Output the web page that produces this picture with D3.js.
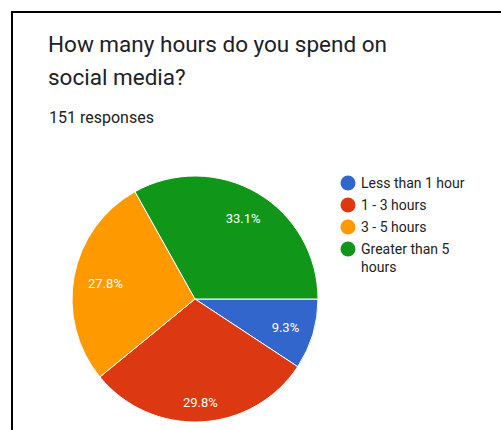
<!DOCTYPE html>
<html>
<head>
<meta charset="utf-8">
<script src="https://cdn.jsdelivr.net/npm/d3@7"></script>
<style>
  html, body { margin: 0; padding: 0; background: #fff; }
  svg { display: block; }
</style>
</head>
<body>
<svg id="chart" width="501" height="430"></svg>
<script>
// Survey answers: hours spent on social media (151 responses)
const categories = ["Less than 1 hour", "1 - 3 hours", "3 - 5 hours", "Greater than 5 hours"];
const counts = [14, 45, 42, 50];
const colors = ["#3366cc", "#dc3912", "#ff9900", "#109618"];
const titleLines = ["How many hours do you spend on", "social media?"];
const subtitle = "151 responses";

const svg = d3.select("#chart");
const W = 501, H = 430;
const font = "Roboto, 'Noto Sans', Arial, sans-serif";

// card frame (top and left edges)
svg.append("path")
  .attr("d", `M12,${H} L12,12 L${W},12`)
  .attr("fill", "none")
  .attr("stroke", "#000")
  .attr("stroke-width", 2);

// heading
svg.append("g").selectAll("text")
  .data(titleLines)
  .join("text")
  .attr("x", 48)
  .attr("y", (d, i) => 52 + i * 32.5)
  .attr("font-family", font)
  .attr("font-size", 22.5)
  .attr("fill", "#202124")
  .text(d => d);

svg.append("text")
  .attr("x", 49)
  .attr("y", 122.5)
  .attr("font-family", font)
  .attr("font-size", 16)
  .attr("fill", "#202124")
  .text(subtitle);

// pie
const cx = 195, cy = 299, R = 123;
const total = d3.sum(counts);
const pie = d3.pie().sort(null).startAngle(Math.PI / 2).endAngle(Math.PI / 2 + 2 * Math.PI);
const arcs = pie(counts);
const arc = d3.arc().innerRadius(0).outerRadius(R);
const color = d3.scaleOrdinal().domain(categories).range(colors);

const g = svg.append("g").attr("transform", `translate(${cx},${cy})`);
g.selectAll("path")
  .data(arcs)
  .join("path")
  .attr("d", arc)
  .attr("fill", (d, i) => color(categories[i]))
  .attr("stroke", "#fff")
  .attr("stroke-width", 1);

// percentage labels, pushed out until the text box touches an inner ring
const fmt = v => (v / total * 100).toFixed(1) + "%";
const labels = g.selectAll("text.pct")
  .data(arcs)
  .join("text")
  .attr("class", "pct")
  .attr("font-family", font)
  .attr("font-size", 13)
  .attr("fill", "#fff")
  .attr("text-anchor", "middle")
  .attr("dy", "0.35em")
  .text(d => fmt(d.value));

const ring = R * 0.89;
labels.each(function(d) {
  const b = this.getBBox();
  const a = (d.startAngle + d.endAngle) / 2;
  const ux = Math.sin(a), uy = -Math.cos(a);
  const ext = (b.width / 2) * Math.abs(ux) + (b.height / 2 - 1) * Math.abs(uy);
  const dist = ring - ext;
  d3.select(this).attr("x", ux * dist).attr("y", uy * dist + 1.5);
});

// legend
const legend = svg.append("g").attr("transform", "translate(348,183)");
const items = legend.selectAll("g")
  .data(categories)
  .join("g")
  .attr("transform", (d, i) => `translate(0,${i * 22})`);
items.append("circle")
  .attr("r", 7.5)
  .attr("fill", d => color(d));
items.append("text")
  .attr("x", 13)
  .attr("font-family", font)
  .attr("font-size", 14)
  .attr("fill", "#222")
  .each(function(d) {
    // wrap long labels onto a second line
    const words = d.split(" ");
    const t = d3.select(this);
    let line = [], lineNo = 0;
    let tspan = t.append("tspan").attr("x", 13).attr("y", 5);
    words.forEach(w => {
      line.push(w);
      tspan.text(line.join(" "));
      if (tspan.node().getComputedTextLength() > 115 && line.length > 1) {
        line.pop();
        tspan.text(line.join(" "));
        line = [w];
        lineNo++;
        tspan = t.append("tspan").attr("x", 13).attr("y", 5 + lineNo * 18).text(w);
      }
    });
  });
</script>
</body>
</html>
